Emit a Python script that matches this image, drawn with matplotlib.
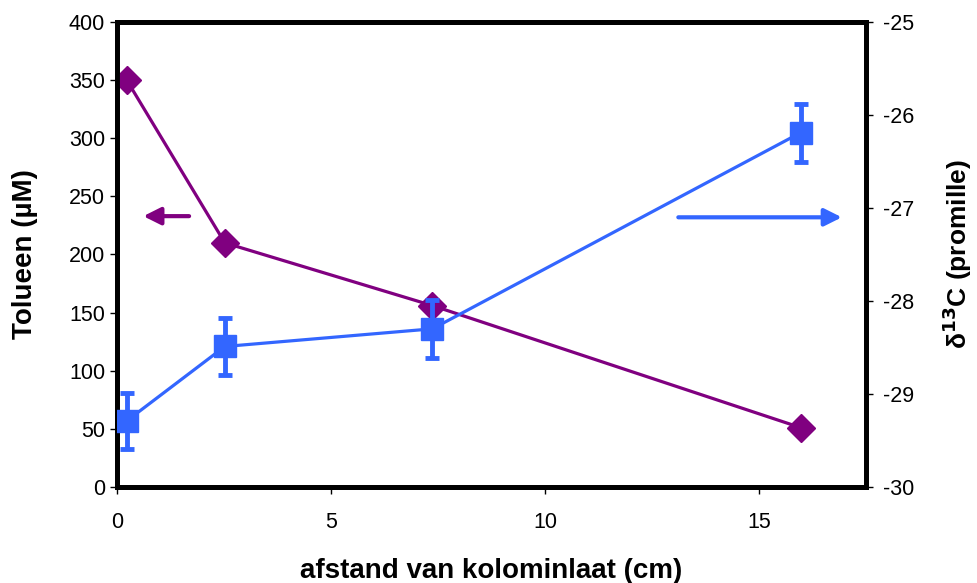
import matplotlib
matplotlib.use("Agg")
import matplotlib.pyplot as plt

plt.rcParams['font.family'] = ['Liberation Sans', 'DejaVu Sans']
plt.rcParams['axes.unicode_minus'] = False

# afstand (cm)
afstand = [0.23, 2.52, 7.37, 15.97]
# tolueen concentratie (uM), linker as
tolueen = [350, 210, 156, 51]
# delta 13C (promille), rechter as
d13c = [-29.29, -28.49, -28.30, -26.19]
d13c_err = [0.30, 0.31, 0.31, 0.31]

purple = '#800080'
blue = '#3366FF'

fig = plt.figure(figsize=(9.78, 5.83), dpi=100)
ax1 = fig.add_axes([0.1196, 0.165, 0.7659, 0.797])
ax2 = ax1.twinx()

ax1.plot(afstand, tolueen, color=purple, lw=2.3, marker='D', markersize=14,
         markeredgecolor=purple, zorder=3)
ax2.errorbar(afstand, d13c, yerr=d13c_err, color=blue, lw=2.3, marker='s',
             markersize=16, elinewidth=3.5, capsize=5, capthick=3.5, zorder=3)

ax1.set_xlim(0, 17.5)
ax1.set_ylim(0, 400)
ax2.set_ylim(-30, -25)
ax1.set_xticks([0, 5, 10, 15])
ax1.set_yticks(range(0, 401, 50))
ax2.set_yticks(range(-30, -24))

for ax in (ax1, ax2):
    for s in ax.spines.values():
        s.set_linewidth(3.5)
    ax.tick_params(labelsize=15.5, length=5, width=1, direction='out')
ax1.tick_params(axis='x', pad=13)
ax2.tick_params(axis='y', pad=7)

ax1.set_xlabel('afstand van kolominlaat (cm)', fontsize=20, fontweight='bold', labelpad=18)
ax1.set_ylabel('Tolueen (µM)', fontsize=20, fontweight='bold', labelpad=22)
ax2.set_ylabel(r'δ$^{\mathbf{13}}$C (promille)', fontsize=19, fontweight='bold', labelpad=19)

ax1.annotate('', xy=(0.55, 233), xytext=(1.75, 233),
             arrowprops=dict(arrowstyle='-|>', color=purple, lw=3, mutation_scale=26))
ax2.annotate('', xy=(17.0, -27.1), xytext=(13.05, -27.1),
             arrowprops=dict(arrowstyle='-|>', color=blue, lw=3, mutation_scale=26))

fig.savefig('out.png', dpi=100)
